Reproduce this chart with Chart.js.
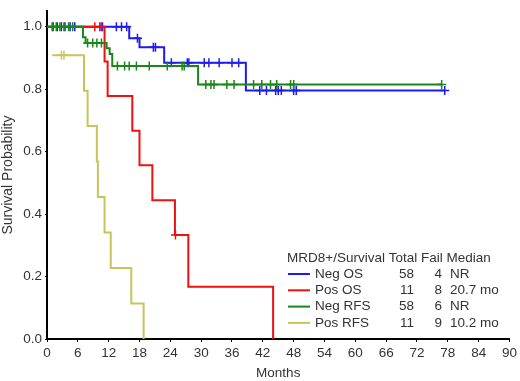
<!DOCTYPE html>
<html>
<head>
<meta charset="utf-8">
<script src="https://cdn.jsdelivr.net/npm/chart.js@4/dist/chart.umd.min.js"></script>
<style>
  html, body { margin: 0; padding: 0; background: #fff; }
  #wrap { width: 520px; height: 381px; }
</style>
</head>
<body>
<div id="wrap"><canvas id="km" width="520" height="381"></canvas></div>
<script>
// Kaplan-Meier curves (months, survival probability)
const negOsTimes = [0, 16.0, 18.0, 22.8, 38.7];
const negOsSurv = [1, 0.963, 0.934, 0.885, 0.796];
const negOsCensor = [1.2, 2.0, 2.8, 3.5, 4.5, 5.4, 10.3, 10.8, 13.5, 14.5, 15.5, 17.6,
  20.7, 21.1, 24.2, 27.3, 27.6, 30.6, 31.5, 33.5, 36, 37.3, 41.4, 42.7, 44.5, 45, 45.6,
  48, 48.5, 77.4];

const posOsTimes = [0, 11.2, 11.8, 16.6, 18.0, 20.5, 24.9, 27.5, 44.0];
const posOsSurv = [1, 0.889, 0.778, 0.667, 0.556, 0.444, 0.333, 0.167, 0];
const posOsCensor = [9.3, 10.6, 25.0];

const negRfsTimes = [0, 7.0, 7.5, 11.6, 12.2, 12.7, 29.4];
const negRfsSurv = [1, 0.966, 0.948, 0.931, 0.913, 0.874, 0.815];
const negRfsCensor = [1.0, 1.8, 2.5, 3.3, 4.2, 5.0, 7.9, 8.9, 9.7, 10.6, 13.7, 15.1, 16,
  17.4, 19.9, 23.4, 26.3, 26.7, 30.9, 31.9, 32.5, 35, 36.4, 40.2, 41.8, 43.5, 44.7, 47.4,
  48, 76.8];

const posRfsTimes = [1.0, 7.2, 7.9, 9.7, 9.9, 11.2, 12.4, 16.4, 18.8];
const posRfsSurv = [0.909, 0.795, 0.682, 0.568, 0.455, 0.341, 0.227, 0.114, 0];
const posRfsCensor = [2.8, 3.3];

const xTicks = [0, 6, 12, 18, 24, 30, 36, 42, 48, 54, 60, 66, 72, 78, 84, 90];
const yTicks = [0, 0.2, 0.4, 0.6, 0.8, 1.0];

const legendHead = ["MRD8+/Survival", "Total", "Fail", "Median"];
const groupNames = ["Neg OS", "Pos OS", "Neg RFS", "Pos RFS"];
const groupTotal = [58, 11, 58, 11];
const groupFail = [4, 8, 6, 9];
const groupMedian = ["NR", "20.7 mo", "NR", "10.2 mo"];
const groupColors = ["#1c1cf0", "#f01010", "#1a861a", "#c8c45a"];

function survAt(times, surv, t) {
  let s = surv[0];
  for (let i = 0; i < times.length; i++) if (times[i] <= t) s = surv[i];
  return s;
}

function buildCurve(times, surv, censor) {
  const pts = times.map((t, i) => ({ x: t, y: surv[i], c: false }));
  censor.forEach((t) => pts.push({ x: t, y: survAt(times, surv, t), c: true }));
  pts.sort((a, b) => a.x - b.x || (a.c ? 1 : -1));
  return pts;
}

function curveDataset(pts, color) {
  return {
    data: pts.map((p) => ({ x: p.x, y: p.y })),
    stepped: "before",
    borderColor: color,
    backgroundColor: color,
    borderWidth: 2,
    fill: false,
    pointStyle: "cross",
    pointRadius: pts.map((p) => (p.c ? 4.5 : 0)),
    pointHoverRadius: 0,
    pointBorderColor: color,
    pointBorderWidth: 1.5,
  };
}

const curves = {
  negOs: buildCurve(negOsTimes, negOsSurv, negOsCensor),
  posOs: buildCurve(posOsTimes, posOsSurv, posOsCensor),
  negRfs: buildCurve(negRfsTimes, negRfsSurv, negRfsCensor),
  posRfs: buildCurve(posRfsTimes, posRfsSurv, posRfsCensor),
};

const FONT = '"Liberation Sans", Arial, sans-serif';

// draws the little table in the lower right
const legendTable = {
  id: "legendTable",
  afterDraw(chart) {
    const ctx = chart.ctx;
    ctx.save();
    ctx.font = "13.5px " + FONT;
    ctx.fillStyle = "#333";
    ctx.textBaseline = "middle";
    ctx.textAlign = "left";
    ctx.fillText(legendHead.join(" "), 287, 258);
    groupNames.forEach((name, i) => {
      const y = 274 + i * 16.3;
      ctx.strokeStyle = groupColors[i];
      ctx.lineWidth = 2;
      ctx.beginPath();
      ctx.moveTo(288, y);
      ctx.lineTo(310, y);
      ctx.stroke();
      ctx.fillStyle = "#333";
      ctx.textAlign = "left";
      ctx.fillText(name, 315, y);
      ctx.textAlign = "right";
      ctx.fillText(String(groupTotal[i]), 414, y);
      ctx.fillText(String(groupFail[i]), 442, y);
      ctx.textAlign = "left";
      ctx.fillText(groupMedian[i], 450, y);
    });
    ctx.restore();
  },
};

Chart.defaults.font.family = FONT;

new Chart(document.getElementById("km"), {
  type: "line",
  data: {
    datasets: [
      curveDataset(curves.negRfs, groupColors[2]),
      curveDataset(curves.posOs, groupColors[1]),
      curveDataset(curves.negOs, groupColors[0]),
      curveDataset(curves.posRfs, groupColors[3]),
    ],
  },
  options: {
    responsive: false,
    animation: false,
    devicePixelRatio: 1,
    layout: { padding: { top: 1, right: 8, left: 0, bottom: 0 } },
    plugins: { legend: { display: false }, tooltip: { enabled: false } },
    scales: {
      x: {
        type: "linear",
        min: 0,
        max: 90,
        afterBuildTicks: (s) => { s.ticks = xTicks.map((v) => ({ value: v })); },
        afterFit: (s) => { s.height = 42; },
        ticks: { color: "#333", font: { size: 13.5 }, padding: 3, maxRotation: 0, autoSkip: false },
        grid: { drawOnChartArea: false, tickLength: 3, color: "#000" },
        border: { color: "#000", width: 2 },
        title: { display: true, text: "Months", color: "#333", font: { size: 13.5 }, padding: { top: 2, bottom: 0 } },
      },
      y: {
        min: 0,
        max: 1.05,
        afterBuildTicks: (s) => { s.ticks = yTicks.map((v) => ({ value: v })); },
        afterFit: (s) => { s.width = 47; },
        ticks: { color: "#333", font: { size: 13.5 }, padding: 3, callback: (v) => v.toFixed(1) },
        grid: { drawOnChartArea: false, tickLength: 2, color: "#000" },
        border: { color: "#000", width: 2 },
        title: { display: true, text: "Survival Probability", color: "#333", font: { size: 14 }, padding: { top: 0, bottom: 2 } },
      },
    },
  },
  plugins: [legendTable],
});
</script>
</body>
</html>
